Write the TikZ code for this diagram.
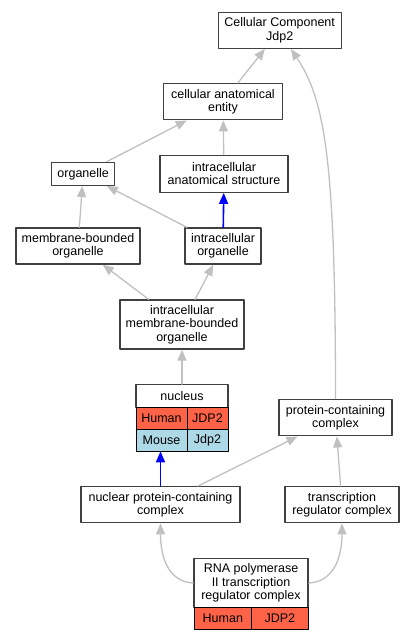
\documentclass[tikz,border=0pt]{standalone}
\usepackage{fontspec}
\setmainfont{Liberation Sans}
\usetikzlibrary{arrows.meta,positioning,calc}
\definecolor{isagray}{HTML}{C0C0C0}
\definecolor{boxgray}{HTML}{404040}
\definecolor{human}{HTML}{FF6347}
\definecolor{mouse}{HTML}{ADD8E6}
\tikzstyle{every node}=[font=\fontsize{12.5}{13.3}\selectfont]
\tikzstyle{every path}=[line cap=round,line join=round]

\begin{document}
\begin{tikzpicture}[x=1pt,y=-1pt,
  term/.style={draw=boxgray,line width=1.4pt,fill=white,align=center,inner sep=0pt},
  cell/.style={draw=black,line width=1pt,inner sep=0pt,outer sep=0pt,anchor=north west},
  isa/.style={draw=isagray,line width=1.3pt,-{Triangle[length=11pt,width=9pt]}},
  partof/.style={draw=blue,line width=1.6pt,-{Triangle[length=11pt,width=9pt]}}]
\useasboundingbox (0,0) rectangle (413,640);

\node[term,minimum width=123pt,minimum height=36pt] (cc) at (279.7,30.2) {Cellular Component\\Jdp2};
\node[term,minimum width=119pt,minimum height=36pt] (cae) at (223,101.7) {cellular anatomical\\entity};
\node[term,minimum width=63pt,minimum height=23pt] (org) at (83.2,173.8) {organelle};
\node[term,minimum width=128pt,minimum height=37pt] (ias) at (224,173.7) {intracellular\\anatomical structure};
\node[term,minimum width=124pt,minimum height=36pt] (mbo) at (78,246) {membrane-bounded\\organelle};
\node[term,minimum width=76pt,minimum height=36pt] (io) at (223,246) {intracellular\\organelle};
\node[term,minimum width=124pt,minimum height=49pt] (imbo) at (182,324.5) {intracellular\\membrane-bounded\\organelle};

% nucleus with its two rows
\node[term,minimum width=92pt,minimum height=22.5pt] (nuc) at (182,396) {nucleus};
\node[cell,fill=human,minimum width=51pt,minimum height=22pt] (nucH) at (136,407.3) {Human};
\node[cell,fill=human,minimum width=41pt,minimum height=22pt] (nucHg) at (nucH.north east) {JDP2};
\node[cell,fill=mouse,minimum width=51pt,minimum height=22pt] (nucM) at (nucH.south west) {Mouse};
\node[cell,fill=mouse,minimum width=41pt,minimum height=22pt] (nucMg) at (nucM.north east) {Jdp2};

\node[term,minimum width=113pt,minimum height=36.5pt] (pcc) at (335.5,417.5) {protein-containing\\complex};
\node[term,minimum width=159pt,minimum height=36pt] (npc) at (160.5,504.7) {nuclear protein-containing\\complex};
\node[term,minimum width=114pt,minimum height=36pt] (trc) at (342,504.7) {transcription\\regulator complex};

% RNA polymerase with one row
\node[term,minimum width=114pt,minimum height=49.5pt] (rna) at (251,583) {RNA polymerase\\II transcription\\regulator complex};
\node[cell,fill=human,minimum width=57.7pt,minimum height=21.6pt] (rnaH) at (194,607.7) {Human};
\node[cell,fill=human,minimum width=56.3pt,minimum height=21.6pt] (rnaHg) at (rnaH.north east) {JDP2};

% edges
\draw[isa] (cae) -- (cc);
\draw[isa] (org) -- (cae);
\draw[isa] (ias) -- (cae);
\draw[isa] (pcc.north) .. controls (335.5,160) and (325,100) .. ([xshift=-51pt]cc.south east);
\draw[isa] (mbo) -- (org);
\draw[isa] (io) -- (org);
\draw[partof] (io) -- (ias);
\draw[isa] (imbo) -- (mbo);
\draw[isa] (imbo) -- (io);
\draw[isa] (nuc) -- (imbo);
\draw[partof] (npc.north) -- (npc.north |- nucM.south);
\draw[isa] (npc) -- (pcc);
\draw[isa] (trc) -- (pcc);
\draw[isa] (rna.west) .. controls (170,582) and (160.5,560) .. (npc.south);
\draw[isa] (rna.east) .. controls (332,582) and (342,560) .. (trc.south);
\end{tikzpicture}
\end{document}
